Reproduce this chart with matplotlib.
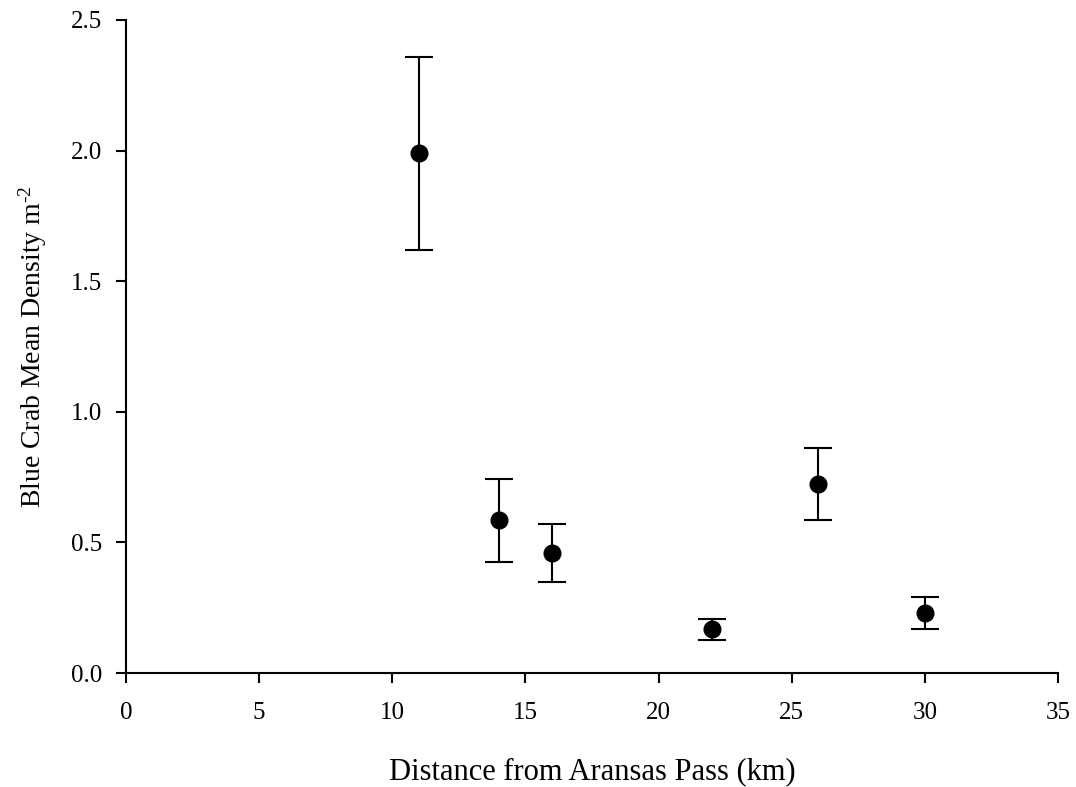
import matplotlib
matplotlib.use("Agg")
import matplotlib.pyplot as plt

distance_km = [11, 14, 16, 22, 26, 30]
mean_density = [1.99, 0.584, 0.460, 0.168, 0.725, 0.231]
std_error = [0.37, 0.160, 0.112, 0.040, 0.138, 0.061]
x_ticks = [0, 5, 10, 15, 20, 25, 30, 35]
y_ticks = [0.0, 0.5, 1.0, 1.5, 2.0, 2.5]

plt.rcParams['font.family'] = ['Liberation Serif', 'DejaVu Serif']
plt.rcParams['mathtext.fontset'] = 'custom'
plt.rcParams['mathtext.rm'] = 'Liberation Serif'
plt.rcParams['mathtext.it'] = 'Liberation Serif:italic'

fig = plt.figure(figsize=(10.76, 7.87), dpi=100)
ax = fig.add_axes([126/1076, 1-673/787, (1058-126)/1076, (673-20)/787])

ax.errorbar(distance_km, mean_density, yerr=std_error, fmt='o', color='black',
            markersize=12, elinewidth=1.5, capsize=10, capthick=1.5, ecolor='black')

ax.set_xlim(0, 35)
ax.set_ylim(0, 2.5)
ax.set_xticks(x_ticks)
ax.set_xticklabels([str(t) for t in x_ticks])
ax.set_yticks(y_ticks)
ax.set_yticklabels([f"{t:.1f}" for t in y_ticks])

for s in ['top', 'right']:
    ax.spines[s].set_visible(False)
for s in ['left', 'bottom']:
    ax.spines[s].set_linewidth(1.5)

ax.tick_params(axis='both', direction='out', length=7, width=1.5, labelsize=18)
ax.tick_params(axis='x', pad=14)
ax.tick_params(axis='y', pad=10)

ax.set_xlabel('Distance from Aransas Pass (km)', fontsize=22, labelpad=24)
ax.set_ylabel('Blue Crab Mean Density m$^{\\text{-2}}$', fontsize=20, labelpad=16)

fig.savefig('out.png', dpi=100)
